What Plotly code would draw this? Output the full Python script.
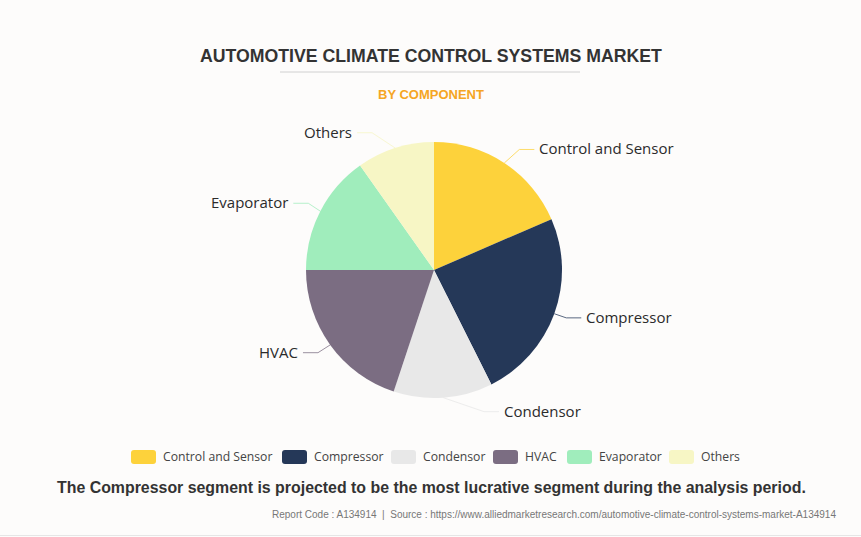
import math
import plotly.graph_objects as go

# ---- data ----
categories = ["Control and Sensor", "Compressor", "Condensor", "HVAC", "Evaporator", "Others"]
shares = [18.5, 24.1, 12.5, 19.9, 15.2, 9.8]
colors = ["#FDD23B", "#253858", "#E8E8E8", "#7B6D82", "#A0EDBC", "#F7F6C5"]

title_text = "AUTOMOTIVE CLIMATE CONTROL SYSTEMS MARKET"
subtitle_text = "BY COMPONENT"
footnote_text = "The Compressor segment is projected to be the most lucrative segment during the analysis period."
source_text = ("Report Code : A134914  |  Source : https://www.alliedmarketresearch.com/"
               "automotive-climate-control-systems-market-A134914")

# ---- geometry (pixel space) ----
W, H = 861, 537
CX, CY, R = 434, 270, 128
LEN1 = 15          # radial part of leader line
RLABEL = 158       # ellipse for label anchor
LEN2 = 18

fig = go.Figure()
fig.add_trace(go.Pie(
    labels=categories, values=shares, sort=False, direction="clockwise", rotation=0,
    marker=dict(colors=colors, line=dict(width=0)),
    textinfo="none", hoverinfo="label+percent", showlegend=False,
    domain=dict(x=[(CX - R) / W, (CX + R) / W], y=[1 - (CY + R) / H, 1 - (CY - R) / H]),
))

shapes = []
annotations = []
label_font = dict(family="Open Sans, Segoe UI, sans-serif", size=15, color="#2b2b2b")

total = sum(shares)
cum = 0.0
for cat, v, col in zip(categories, shares, colors):
    mid = (cum + v / 2) / total * 2 * math.pi
    cum += v
    sx, sy = math.sin(mid), -math.cos(mid)
    ex, ey = CX + R * sx, CY + R * sy
    dy = (R + LEN1) * sy
    ty = CY + dy
    side = 1 if sx >= 0 else -1
    tx = CX + side * math.sqrt(max(RLABEL ** 2 - dy ** 2, 0))
    px = tx - side * LEN2
    qx = tx - side * 3
    shapes.append(dict(type="path", xref="x", yref="y",
                       path=f"M{ex:.2f},{ey:.2f} L{px:.2f},{ty - 1:.2f} L{qx:.2f},{ty - 1:.2f}",
                       line=dict(color=col, width=1), opacity=0.75, layer="above"))
    annotations.append(dict(x=tx, y=ty - 2, xref="x", yref="y", text=cat, showarrow=False,
                            xanchor="left" if side > 0 else "right", yanchor="middle",
                            font=label_font))

# ---- custom legend ----
legend_x = [131, 282, 391, 493, 567, 669]
LEG_Y = 457
for lx, cat, col in zip(legend_x, categories, colors):
    x0, x1, y0, y1, rr = lx, lx + 25, LEG_Y - 7, LEG_Y + 7, 3
    path = (f"M{x0+rr},{y0} L{x1-rr},{y0} Q{x1},{y0} {x1},{y0+rr} L{x1},{y1-rr} "
            f"Q{x1},{y1} {x1-rr},{y1} L{x0+rr},{y1} Q{x0},{y1} {x0},{y1-rr} "
            f"L{x0},{y0+rr} Q{x0},{y0} {x0+rr},{y0} Z")
    shapes.append(dict(type="path", xref="x", yref="y", path=path,
                       fillcolor=col, line=dict(width=0)))
    annotations.append(dict(x=lx + 29.5, y=LEG_Y - 0.5, xref="x", yref="y", text=cat, showarrow=False,
                            xanchor="left", yanchor="middle",
                            font=dict(family="Open Sans, Segoe UI, sans-serif", size=12.2, color="#444444")))

# ---- titles ----
annotations.append(dict(x=430.5, y=56, xref="x", yref="y", text=f"<b>{title_text}</b>", showarrow=False,
                        xanchor="center", yanchor="middle",
                        font=dict(family="Liberation Sans, Arial", size=17.7, color="#333333")))
shapes.append(dict(type="line", xref="x", yref="y", x0=280, x1=580, y0=72, y1=72,
                   line=dict(color="#d0d0d0", width=1)))
annotations.append(dict(x=430.5, y=94, xref="x", yref="y", text=f"<b>{subtitle_text}</b>", showarrow=False,
                        xanchor="center", yanchor="middle",
                        font=dict(family="Liberation Sans, Arial", size=13, color="#F5A623")))
annotations.append(dict(x=431, y=487, xref="x", yref="y", text=f"<b>{footnote_text}</b>", showarrow=False,
                        xanchor="center", yanchor="middle",
                        font=dict(family="Liberation Sans, Arial", size=15.9, color="#333333")))
annotations.append(dict(x=838, y=514, xref="x", yref="y", text=source_text, showarrow=False,
                        xanchor="right", yanchor="middle",
                        font=dict(family="Liberation Sans, Arial", size=10, color="#777777")))
shapes.append(dict(type="line", xref="x", yref="y", x0=0, x1=W, y0=535.5, y1=535.5,
                   line=dict(color="#e6e6e6", width=1)))

fig.update_layout(
    width=W, height=H, margin=dict(l=0, r=0, t=0, b=0),
    paper_bgcolor="#fdfcfb", plot_bgcolor="rgba(0,0,0,0)",
    xaxis=dict(range=[0, W], visible=False, fixedrange=True),
    yaxis=dict(range=[H, 0], visible=False, fixedrange=True),
    shapes=shapes, annotations=annotations, showlegend=False,
)

fig.write_html("out.html", post_script="document.body.style.margin='0';",
               config={"displayModeBar": False})
